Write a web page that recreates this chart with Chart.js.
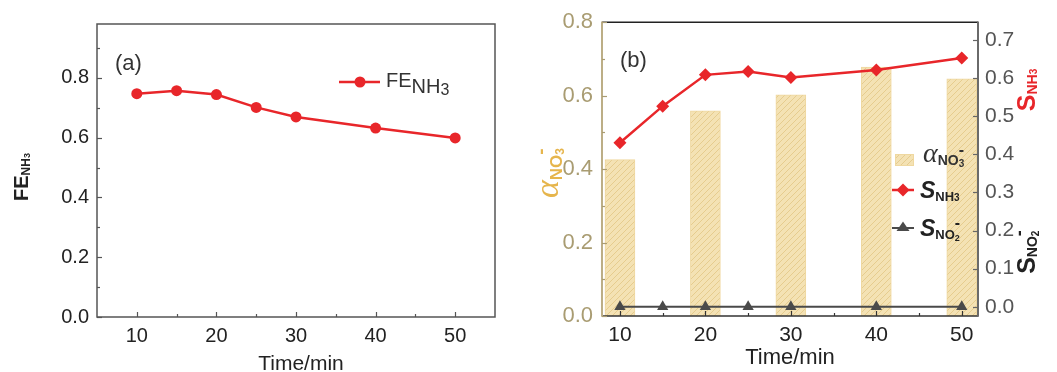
<!DOCTYPE html>
<html>
<head>
<meta charset="utf-8">
<script src="https://cdn.jsdelivr.net/npm/chart.js@4.4.0/dist/chart.umd.min.js"></script>
<style>
  html, body { margin: 0; padding: 0; background: #fff; }
  #wrap { position: relative; width: 1057px; height: 372px; overflow: hidden; }
  .box { position: absolute; top: 0; height: 372px; }
</style>
</head>
<body>
<div id="wrap">
  <div class="box" style="left:0;width:520px"><canvas id="chartA" width="520" height="372"></canvas></div>
  <div class="box" style="left:520px;width:537px"><canvas id="chartB" width="537" height="372"></canvas></div>
</div>
<script>
// panel (a)
const timeA = [10, 15, 20, 25, 30, 40, 50];
const feNH3 = [0.747, 0.757, 0.744, 0.701, 0.669, 0.632, 0.599];

// panel (b)
const timeBar = [10, 20, 30, 40, 50];
const alphaNO3 = [0.426, 0.559, 0.602, 0.678, 0.646];
const timeB = [10, 15, 20, 25, 30, 40, 50];
const sNH3 = [0.430, 0.526, 0.608, 0.617, 0.601, 0.621, 0.652];
const sNO2 = [0, 0, 0, 0, 0, 0, 0];

// ticks
const timeTicks = [10, 20, 30, 40, 50];
const timeMinor = [15, 25, 35, 45];
const feTicks = [0, 0.2, 0.4, 0.6, 0.8];
const feMinor = [0.1, 0.3, 0.5, 0.7, 0.9];
const alphaTicks = [0, 0.2, 0.4, 0.6, 0.8];
const alphaMinor = [0.1, 0.3, 0.5, 0.7];
const selTicks = [0, 0.1, 0.2, 0.3, 0.4, 0.5, 0.6, 0.7];

const FAM = "'Liberation Sans', Arial, sans-serif";
const RED = '#e8262a';
const GOLD = '#e6b54c';
const TAN = '#a99c72';

function pts(xs, ys) {
  return xs.map((x, i) => ({ x: x, y: ys[i] }));
}

function setTicks(list) {
  return (scale) => { scale.ticks = list.map((v) => ({ value: v })); };
}

// draw text made of pieces (sub/superscripts)
function rich(ctx, parts, x, y, rot, align) {
  ctx.save();
  ctx.translate(x, y);
  if (rot) ctx.rotate(rot);
  ctx.textBaseline = 'alphabetic';
  ctx.textAlign = 'left';
  let total = 0, px = 0;
  parts.forEach((p) => {
    ctx.font = p.f;
    const w = ctx.measureText(p.t).width;
    if (p.stack) { total = Math.max(total, px + w); }
    else { px = total; total += w + (p.dx || 0); }
  });
  let cx = align === 'center' ? -total / 2 : 0;
  let start = cx;
  parts.forEach((p) => {
    ctx.font = p.f;
    ctx.fillStyle = p.c;
    const w = ctx.measureText(p.t).width;
    if (p.stack) {
      ctx.fillText(p.t, start, p.dy || 0);
    } else {
      start = cx;
      ctx.fillText(p.t, cx, p.dy || 0);
      cx += w + (p.dx || 0);
    }
  });
  ctx.restore();
}

function inTicks(ctx, scale, vals, len, side, a) {
  vals.forEach((v) => {
    const p = Math.round(scale.getPixelForValue(v)) + 0.5;
    ctx.beginPath();
    if (side === 'bottom') { ctx.moveTo(p, a.bottom); ctx.lineTo(p, a.bottom - len); }
    if (side === 'left') { ctx.moveTo(a.left, p); ctx.lineTo(a.left + len, p); }
    if (side === 'right') { ctx.moveTo(a.right, p); ctx.lineTo(a.right - len, p); }
    ctx.stroke();
  });
}

function line(ctx, x1, y1, x2, y2, col, w) {
  ctx.strokeStyle = col;
  ctx.lineWidth = w;
  ctx.beginPath();
  ctx.moveTo(x1, y1);
  ctx.lineTo(x2, y2);
  ctx.stroke();
}

// ---------- chart (a) ----------
const decorA = {
  id: 'decorA',
  afterDraw(chart) {
    const { ctx, chartArea: a, scales } = chart;
    ctx.save();
    ctx.strokeStyle = '#555';
    ctx.lineWidth = 1.5;
    ctx.strokeRect(a.left, a.top, a.right - a.left, a.bottom - a.top);
    ctx.lineWidth = 1.2;
    inTicks(ctx, scales.x, timeTicks, 5, 'bottom', a);
    inTicks(ctx, scales.x, timeMinor, 3, 'bottom', a);
    inTicks(ctx, scales.y, feTicks, 5, 'left', a);
    inTicks(ctx, scales.y, feMinor, 3, 'left', a);

    rich(ctx, [{ t: '(a)', f: '22px ' + FAM, c: '#333' }], 115, 70);

    // legend
    line(ctx, 339, 82, 380, 82, RED, 2.5);
    ctx.fillStyle = RED;
    ctx.beginPath();
    ctx.arc(360, 82, 5.5, 0, Math.PI * 2);
    ctx.fill();
    rich(ctx, [
      { t: 'FE', f: '20px ' + FAM, c: '#333' },
      { t: 'NH', f: '20px ' + FAM, c: '#333', dy: 6 },
      { t: '3', f: '16px ' + FAM, c: '#333', dy: 8 }
    ], 386, 87);

    // axis titles
    rich(ctx, [
      { t: 'FE', f: 'bold 20px ' + FAM, c: '#222' },
      { t: 'NH', f: 'bold 12px ' + FAM, c: '#222', dy: 2 },
      { t: '3', f: 'bold 9px ' + FAM, c: '#222', dy: 2 }
    ], 28, 177, -Math.PI / 2, 'center');
    rich(ctx, [{ t: 'Time/min', f: '21px ' + FAM, c: '#222' }], 301, 370, 0, 'center');
    ctx.restore();
  }
};

new Chart(document.getElementById('chartA'), {
  type: 'line',
  data: {
    datasets: [{
      label: 'FE NH3',
      data: pts(timeA, feNH3),
      borderColor: RED,
      backgroundColor: RED,
      borderWidth: 2.5,
      pointRadius: 5.5,
      pointBorderWidth: 0,
      pointBackgroundColor: RED,
      tension: 0
    }]
  },
  options: {
    responsive: false,
    animation: false,
    layout: { padding: { top: 24, right: 25, left: 0, bottom: 0 } },
    plugins: { legend: { display: false }, tooltip: { enabled: false } },
    scales: {
      x: {
        type: 'linear', min: 5, max: 55,
        afterBuildTicks: setTicks(timeTicks),
        afterFit: (s) => { s.height = 55; },
        grid: { display: false, drawTicks: false },
        border: { display: false },
        ticks: { padding: 7, color: '#222', font: { family: FAM, size: 20 }, callback: (v) => String(v) }
      },
      y: {
        type: 'linear', min: 0, max: 0.98,
        afterBuildTicks: setTicks(feTicks),
        afterFit: (s) => { s.width = 97; },
        grid: { display: false, drawTicks: false },
        border: { display: false },
        ticks: { padding: 8, color: '#222', font: { family: FAM, size: 20 }, callback: (v) => v.toFixed(1) }
      }
    }
  },
  plugins: [decorA]
});

// ---------- chart (b) ----------
const canvasB = document.getElementById('chartB');

function hatch(ctx) {
  const c = document.createElement('canvas');
  c.width = 6; c.height = 6;
  const g = c.getContext('2d');
  g.fillStyle = '#f4e2b4';
  g.fillRect(0, 0, 6, 6);
  g.strokeStyle = '#e6cc8e';
  g.lineWidth = 1;
  g.beginPath();
  g.moveTo(0, 6); g.lineTo(6, 0);
  g.moveTo(-1, 1); g.lineTo(1, -1);
  g.moveTo(5, 7); g.lineTo(7, 5);
  g.stroke();
  return ctx.createPattern(c, 'repeat');
}
const barFill = hatch(canvasB.getContext('2d'));

const decorB = {
  id: 'decorB',
  afterDraw(chart) {
    const { ctx, chartArea: a, scales } = chart;
    ctx.save();
    line(ctx, a.left, a.top, a.right, a.top, '#222', 1.5);
    line(ctx, a.left, a.bottom, a.right, a.bottom, '#333', 1.5);
    line(ctx, a.left, a.top - 0.7, a.left, a.bottom + 0.7, '#bcae86', 2);
    line(ctx, a.right, a.top - 0.7, a.right, a.bottom + 0.7, '#6a6a6a', 2);

    ctx.lineWidth = 1.2;
    ctx.strokeStyle = '#333';
    inTicks(ctx, scales.x, timeTicks, 5, 'bottom', a);
    inTicks(ctx, scales.x, timeMinor, 3, 'bottom', a);
    ctx.strokeStyle = '#a99c72';
    inTicks(ctx, scales.y, alphaTicks, 5, 'left', a);
    inTicks(ctx, scales.y, alphaMinor, 3, 'left', a);
    ctx.strokeStyle = '#666';
    inTicks(ctx, scales.y1, selTicks, 5, 'right', a);

    rich(ctx, [{ t: '(b)', f: '22px ' + FAM, c: '#333' }], 100, 67);

    // legend
    ctx.fillStyle = barFill;
    ctx.fillRect(375, 154, 18, 11);
    ctx.strokeStyle = '#efd8a0';
    ctx.lineWidth = 1;
    ctx.strokeRect(375.5, 154.5, 18, 11);
    rich(ctx, [
      { t: 'α', f: 'italic 28px "Liberation Serif", serif', c: '#333' },
      { t: 'NO', f: 'bold 14px ' + FAM, c: '#333', dy: 3 },
      { t: '3', f: 'bold 10px ' + FAM, c: '#333', dy: 5 },
      { t: '-', f: 'bold 16px ' + FAM, c: '#333', dy: -7, stack: true }
    ], 403, 162);

    line(ctx, 372, 190, 394, 190, RED, 2.5);
    ctx.fillStyle = RED;
    ctx.beginPath();
    ctx.moveTo(383, 183.5); ctx.lineTo(389.5, 190); ctx.lineTo(383, 196.5); ctx.lineTo(376.5, 190);
    ctx.closePath(); ctx.fill();
    rich(ctx, [
      { t: 'S', f: 'italic bold 23px ' + FAM, c: '#222' },
      { t: 'NH', f: 'bold 13px ' + FAM, c: '#222', dy: 3 },
      { t: '3', f: 'bold 10px ' + FAM, c: '#222', dy: 3 }
    ], 400, 198);

    line(ctx, 372, 228, 394, 228, '#4a4a4a', 2);
    ctx.fillStyle = '#4a4a4a';
    ctx.beginPath();
    ctx.moveTo(383, 221.5); ctx.lineTo(389.5, 231); ctx.lineTo(376.5, 231);
    ctx.closePath(); ctx.fill();
    rich(ctx, [
      { t: 'S', f: 'italic bold 23px ' + FAM, c: '#222' },
      { t: 'NO', f: 'bold 13px ' + FAM, c: '#222', dy: 3 },
      { t: '2', f: 'bold 9px ' + FAM, c: '#222', dy: 5 },
      { t: '-', f: 'bold 16px ' + FAM, c: '#222', dy: -8, stack: true }
    ], 400, 236);

    // axis titles
    rich(ctx, [
      { t: 'α', f: 'italic 34px "Liberation Serif", serif', c: GOLD },
      { t: 'NO', f: 'bold 17px ' + FAM, c: GOLD, dy: 4 },
      { t: '3', f: 'bold 12px ' + FAM, c: GOLD, dy: 6 },
      { t: '-', f: 'bold 19px ' + FAM, c: GOLD, dy: -11, stack: true }
    ], 38, 173, -Math.PI / 2, 'center');
    rich(ctx, [
      { t: 'S', f: 'bold 25px ' + FAM, c: RED },
      { t: 'NH', f: 'bold 14px ' + FAM, c: RED, dy: 2 },
      { t: '3', f: 'bold 10px ' + FAM, c: RED, dy: 2 }
    ], 515, 90, -Math.PI / 2, 'center');
    rich(ctx, [
      { t: 'S', f: 'bold 25px ' + FAM, c: '#222' },
      { t: 'NO', f: 'bold 14px ' + FAM, c: '#222', dy: 2 },
      { t: '2', f: 'bold 10px ' + FAM, c: '#222', dy: 4 },
      { t: '-', f: 'bold 18px ' + FAM, c: '#222', dy: -10, stack: true }
    ], 515, 252, -Math.PI / 2, 'center');
    rich(ctx, [{ t: 'Time/min', f: '22px ' + FAM, c: '#222' }], 270, 364, 0, 'center');
    ctx.restore();
  }
};

new Chart(canvasB, {
  type: 'bar',
  data: {
    datasets: [{
      type: 'bar',
      label: 'alpha NO3-',
      data: pts(timeBar, alphaNO3),
      backgroundColor: barFill,
      borderColor: '#efd8a0',
      borderWidth: 1,
      barThickness: 30,
      yAxisID: 'y',
      order: 3
    }, {
      type: 'line',
      label: 'S NH3',
      data: pts(timeB, sNH3),
      borderColor: RED,
      backgroundColor: RED,
      borderWidth: 2.5,
      pointStyle: 'rectRot',
      pointRadius: 6.5,
      pointBorderWidth: 0,
      yAxisID: 'y1',
      tension: 0,
      order: 1
    }, {
      type: 'line',
      label: 'S NO2-',
      data: pts(timeB, sNO2),
      borderColor: '#4a4a4a',
      backgroundColor: '#4a4a4a',
      borderWidth: 2,
      pointStyle: 'triangle',
      pointRadius: 6.5,
      pointBorderWidth: 0,
      yAxisID: 'y1',
      tension: 0,
      clip: false,
      order: 2
    }]
  },
  options: {
    responsive: false,
    animation: false,
    layout: { padding: { top: 22, right: 0, left: 0, bottom: 0 } },
    plugins: { legend: { display: false }, tooltip: { enabled: false } },
    scales: {
      x: {
        type: 'linear', min: 7.9, max: 51.9, offset: false,
        afterBuildTicks: setTicks(timeTicks),
        afterFit: (s) => { s.height = 56; },
        grid: { display: false, drawTicks: false, offset: false },
        border: { display: false },
        ticks: { padding: 7, color: '#222', font: { family: FAM, size: 21 }, callback: (v) => String(v) }
      },
      y: {
        type: 'linear', position: 'left', min: 0, max: 0.8,
        afterBuildTicks: setTicks(alphaTicks),
        afterFit: (s) => { s.width = 82; },
        grid: { display: false, drawTicks: false },
        border: { display: false },
        ticks: { padding: 9, color: TAN, font: { family: FAM, size: 22 }, callback: (v) => v.toFixed(1) }
      },
      y1: {
        type: 'linear', position: 'right', min: -0.024, max: 0.746,
        afterBuildTicks: setTicks(selTicks),
        afterFit: (s) => { s.width = 79; },
        grid: { display: false, drawTicks: false },
        border: { display: false },
        ticks: { padding: 7, color: '#555', font: { family: FAM, size: 21 }, callback: (v) => v.toFixed(1) }
      }
    }
  },
  plugins: [decorB]
});
</script>
</body>
</html>
